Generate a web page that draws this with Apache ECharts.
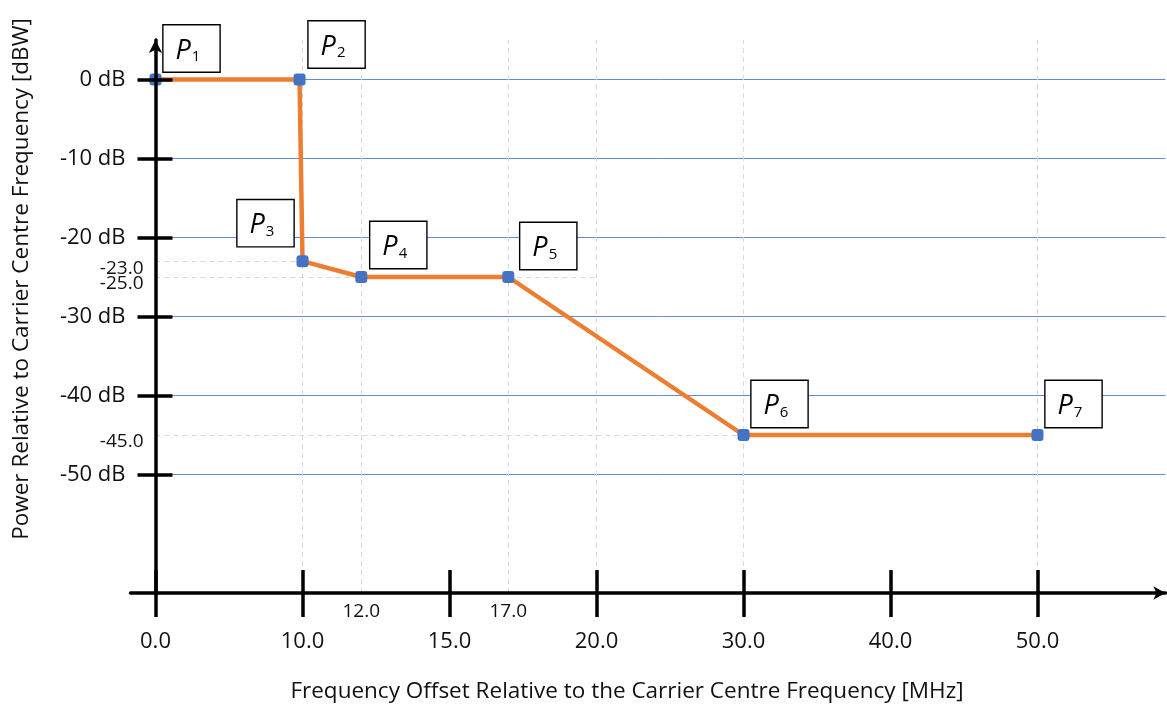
<!DOCTYPE html>
<html>
<head>
<meta charset="utf-8">
<script src="https://cdn.jsdelivr.net/npm/echarts@6/dist/echarts.min.js"></script>
<style>
html,body{margin:0;padding:0;background:#fff;}
#chart{width:1167px;height:705px;}
</style>
</head>
<body>
<div id="chart"></div>
<script>
// ---- data ----
const breakFreqs = [0, 10, 15, 20, 30, 40, 50];          // x tick labels (evenly spaced on the drawing)
const minorFreqLabels = [12, 17];                          // small x labels
const yTickValues = [0, -10, -20, -30, -40, -50];          // dB tick labels
const minorPowerLabels = [-23, -25, -45];                  // small y labels
const pointNames = ['P1', 'P2', 'P3', 'P4', 'P5', 'P6', 'P7'];
const freqMHz = [0, 9.8, 10, 12, 17, 30, 50];
const powerDb = [0, 0, -23, -25, -25, -45, -45];
const guideFreqs = [10, 12, 17, 20, 30, 50];               // vertical dashed guides
const minorPowerEnds = [10, 12, 30];                       // frequency where each small-label guide ends

// piecewise (broken) frequency scale: each labelled interval gets equal width
function freqToPos(f) {
  for (let i = 0; i < breakFreqs.length - 1; i++) {
    if (f <= breakFreqs[i + 1]) return i + (f - breakFreqs[i]) / (breakFreqs[i + 1] - breakFreqs[i]);
  }
  return breakFreqs.length - 1;
}
function posToFreq(p) {
  let i = Math.max(0, Math.min(Math.floor(p), breakFreqs.length - 2));
  return breakFreqs[i] + (p - i) * (breakFreqs[i + 1] - breakFreqs[i]);
}

const X_MIN = -0.17, X_MAX = 6.87, Y_MIN = -65, Y_MAX = 5;
const FONT = '"Open Sans", sans-serif';
const TXT = '#111';

const majorPos = breakFreqs.map((f, i) => i);
const minorPos = minorFreqLabels.map(freqToPos);

const seriesData = freqMHz.map((f, i) => ({ name: pointNames[i], value: [freqToPos(f), powerDb[i]] }));

const labelOffsets = { P2: [37, -35], P3: [-37, -38], P4: [37, -32], P5: [40, -31] };
seriesData.forEach(d => {
  const off = labelOffsets[d.name] || [36, -31];
  d.label = { offset: off };
});

const blueLine = { color: '#5E8CDB', width: 1, type: 'solid' };
const grayDash = { color: '#D9D9D9', width: 1, type: [5, 4] };
const minorLabel = { show: true, position: 'start', distance: 12, fontFamily: FONT, fontSize: 19, color: TXT,
  verticalAlign: 'top', lineHeight: 14, formatter: p => p.value.toFixed(1) };

const markData = [];
yTickValues.forEach(v => markData.push([{ coord: [0, v], lineStyle: blueLine }, { coord: [X_MAX, v] }]));
guideFreqs.forEach(f => markData.push({ xAxis: freqToPos(f), lineStyle: grayDash }));
minorPowerLabels.forEach((v, i) => markData.push([
  { coord: [0, v], value: v, lineStyle: grayDash, label: minorLabel },
  { coord: [freqToPos(minorPowerEnds[i]), v] }
]));
markData.push([{ coord: [freqToPos(17), -25], lineStyle: grayDash }, { coord: [freqToPos(20), -25] }]);

const chart = echarts.init(document.getElementById('chart'), null, { renderer: 'canvas' });
chart.setOption({
  animation: false,
  backgroundColor: '#fff',
  grid: { left: 130.5, right: 1.62, top: 40, bottom: 112, containLabel: false },
  xAxis: [
    {
      type: 'value', min: X_MIN, max: X_MAX, position: 'bottom', z: 5,
      axisLine: { show: true, onZero: false, lineStyle: { color: '#000', width: 3.5 }, symbol: ['none', 'arrow'], symbolSize: [10, 12] },
      axisTick: { show: true, inside: false, length: 24, lineStyle: { color: '#000', width: 3.5 }, customValues: majorPos },
      axisLabel: { show: true, margin: 38, fontFamily: FONT, fontSize: 22, color: TXT, customValues: majorPos,
        hideOverlap: false, formatter: v => posToFreq(v).toFixed(1) },
      splitLine: { show: false }
    },
    {
      type: 'value', min: X_MIN, max: X_MAX, position: 'bottom', z: 5,
      axisLine: { show: false, onZero: false },
      axisTick: { show: true, inside: true, length: 23, lineStyle: { color: '#000', width: 3.5 }, customValues: majorPos },
      axisLabel: { show: true, margin: 9, fontFamily: FONT, fontSize: 19, color: TXT, customValues: minorPos,
        hideOverlap: false, formatter: v => posToFreq(v).toFixed(1) },
      splitLine: { show: false }
    }
  ],
  yAxis: [
    {
      type: 'value', min: Y_MIN, max: Y_MAX, position: 'left', z: 5,
      axisLine: { show: true, onZero: true, lineStyle: { color: '#000', width: 3.5 }, symbol: ['none', 'arrow'], symbolSize: [10, 13] },
      axisTick: { show: true, inside: false, length: 18, lineStyle: { color: '#000', width: 3.5 }, customValues: yTickValues },
      axisLabel: { show: true, margin: 5, fontFamily: FONT, fontSize: 22, color: TXT, customValues: yTickValues,
        hideOverlap: false, formatter: v => v + ' dB' },
      splitLine: { show: false }
    },
    {
      type: 'value', min: Y_MIN, max: Y_MAX, position: 'left', z: 5,
      axisLine: { show: false, onZero: true },
      axisTick: { show: true, inside: true, length: 17, lineStyle: { color: '#000', width: 3.5 }, customValues: yTickValues },
      axisLabel: { show: false },
      splitLine: { show: false }
    }
  ],
  series: [
    {
      type: 'line', xAxisIndex: 0, yAxisIndex: 0, z: 2,
      data: seriesData,
      lineStyle: { color: '#ED7D31', width: 4.5 },
      itemStyle: { color: '#4472C4' },
      symbol: 'roundRect', symbolSize: 12, showAllSymbol: true,
      label: {
        show: true, position: 'inside',
        backgroundColor: '#fff', borderColor: '#000', borderWidth: 1.4,
        padding: [7, 19, 7, 12],
        formatter: p => '{p|P}{s|' + p.name.slice(1) + '}',
        rich: {
          p: { fontFamily: FONT, fontStyle: 'italic', fontSize: 27, color: '#000', lineHeight: 32, verticalAlign: 'bottom' },
          s: { fontFamily: FONT, fontSize: 15, color: '#000', lineHeight: 32, verticalAlign: 'bottom', padding: [0, 0, 0, 1] }
        }
      },
      emphasis: { disabled: true },
      markLine: { silent: true, z: 1, symbol: ['none', 'none'], label: { show: false }, data: markData }
    }
  ],
  graphic: [
    { type: 'text', x: 627, y: 692, z: 10,
      style: { text: 'Frequency Offset Relative to the Carrier Centre Frequency [MHz]', fontFamily: FONT, fontSize: 22.5, fill: TXT, align: 'center', verticalAlign: 'middle' } },
    { type: 'text', x: 22, y: 279, rotation: Math.PI / 2, z: 10,
      style: { text: 'Power Relative to Carrier Centre Frequency [dBW]', fontFamily: FONT, fontSize: 22.5, fill: TXT, align: 'center', verticalAlign: 'middle' } }
  ]
});
</script>
</body>
</html>
